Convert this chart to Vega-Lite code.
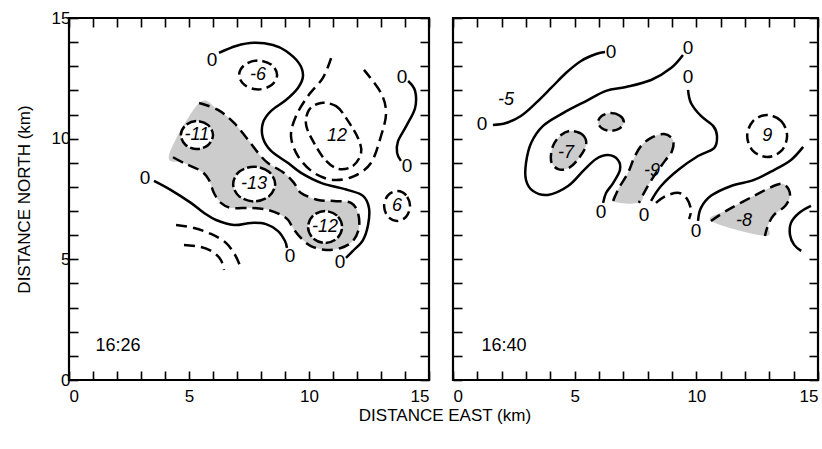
{
 "$schema": "https://vega.github.io/schema/vega-lite/v6.json",
 "background": "white",
 "padding": {"left": 13, "top": 7, "right": 2, "bottom": 5},
 "bounds": "flush",
 "spacing": 24,
 "title": {"text": "DISTANCE EAST (km)", "orient": "bottom", "anchor": "middle", "fontSize": 17, "fontWeight": "normal", "font": "Liberation Sans", "color": "black", "offset": 3, "dx": 28},
 "config": {
  "view": {"stroke": "black", "strokeWidth": 2.2},
  "axis": {"domain": false, "grid": false, "tickColor": "black", "tickWidth": 1.6, "tickSize": -9, "labelFont": "Liberation Sans", "labelFontSize": 17, "labelColor": "black", "titleFont": "Liberation Sans", "titleFontSize": 17, "titleFontWeight": "normal", "titleColor": "black"}
 },
 "datasets": {
  "contours": [
   {"p":"L","id":"A","k":"zero","x":6.25,"y":13.55},{"p":"L","id":"A","k":"zero","x":6.96,"y":13.84},{"p":"L","id":"A","k":"zero","x":7.71,"y":13.97},{"p":"L","id":"A","k":"zero","x":8.5,"y":13.88},{"p":"L","id":"A","k":"zero","x":9.04,"y":13.63},{"p":"L","id":"A","k":"zero","x":9.58,"y":13.13},{"p":"L","id":"A","k":"zero","x":9.75,"y":12.6},{"p":"L","id":"A","k":"zero","x":9.54,"y":12.1},{"p":"L","id":"A","k":"zero","x":9.04,"y":11.6},{"p":"L","id":"A","k":"zero","x":8.42,"y":11.15},{"p":"L","id":"A","k":"zero","x":8.08,"y":10.65},{"p":"L","id":"A","k":"zero","x":8.08,"y":10.03},{"p":"L","id":"A","k":"zero","x":8.42,"y":9.49},{"p":"L","id":"A","k":"zero","x":9.13,"y":8.99},{"p":"L","id":"A","k":"zero","x":9.67,"y":8.58},{"p":"L","id":"A","k":"zero","x":10.5,"y":8.17},{"p":"L","id":"A","k":"zero","x":11.63,"y":7.87},{"p":"L","id":"A","k":"zero","x":12.25,"y":7.63},{"p":"L","id":"A","k":"zero","x":12.5,"y":7.13},{"p":"L","id":"A","k":"zero","x":12.46,"y":6.42},{"p":"L","id":"A","k":"zero","x":12.25,"y":5.8},{"p":"L","id":"A","k":"zero","x":11.83,"y":5.35},{"p":"L","id":"A","k":"zero","x":11.54,"y":5.06},
   {"p":"L","id":"B","k":"zero","x":3.54,"y":8.25},{"p":"L","id":"B","k":"zero","x":4.25,"y":7.87},{"p":"L","id":"B","k":"zero","x":5.08,"y":7.34},{"p":"L","id":"B","k":"zero","x":5.63,"y":6.92},{"p":"L","id":"B","k":"zero","x":6.13,"y":6.63},{"p":"L","id":"B","k":"zero","x":6.88,"y":6.42},{"p":"L","id":"B","k":"zero","x":7.58,"y":6.51},{"p":"L","id":"B","k":"zero","x":8.21,"y":6.46},{"p":"L","id":"B","k":"zero","x":8.71,"y":6.17},{"p":"L","id":"B","k":"zero","x":9.0,"y":5.76},{"p":"L","id":"B","k":"zero","x":9.08,"y":5.47},
   {"p":"L","id":"C","k":"zero","x":14.13,"y":12.39},{"p":"L","id":"C","k":"zero","x":14.42,"y":11.98},{"p":"L","id":"C","k":"zero","x":14.42,"y":11.27},{"p":"L","id":"C","k":"zero","x":14.08,"y":10.57},{"p":"L","id":"C","k":"zero","x":13.71,"y":9.9},{"p":"L","id":"C","k":"zero","x":13.67,"y":9.41},{"p":"L","id":"C","k":"zero","x":13.83,"y":9.08},
   {"p":"L","id":"R1","k":"shade","x":5.42,"y":11.48},{"p":"L","id":"R1","k":"shade","x":6.21,"y":11.19},{"p":"L","id":"R1","k":"shade","x":6.88,"y":10.65},{"p":"L","id":"R1","k":"shade","x":7.46,"y":9.95},{"p":"L","id":"R1","k":"shade","x":7.88,"y":9.41},{"p":"L","id":"R1","k":"shade","x":8.29,"y":8.99},{"p":"L","id":"R1","k":"shade","x":8.96,"y":8.58},{"p":"L","id":"R1","k":"shade","x":9.38,"y":8.16},{"p":"L","id":"R1","k":"shade","x":9.67,"y":7.75},{"p":"L","id":"R1","k":"shade","x":10.38,"y":7.46},{"p":"L","id":"R1","k":"shade","x":11.04,"y":7.42},{"p":"L","id":"R1","k":"shade","x":11.75,"y":7.34},{"p":"L","id":"R1","k":"shade","x":12.04,"y":6.92},{"p":"L","id":"R1","k":"shade","x":12.08,"y":6.3},{"p":"L","id":"R1","k":"shade","x":11.83,"y":5.76},{"p":"L","id":"R1","k":"shade","x":11.33,"y":5.47},{"p":"L","id":"R1","k":"shade","x":10.71,"y":5.39},{"p":"L","id":"R1","k":"shade","x":10.08,"y":5.55},{"p":"L","id":"R1","k":"shade","x":9.67,"y":5.88},{"p":"L","id":"R1","k":"shade","x":9.33,"y":6.3},{"p":"L","id":"R1","k":"shade","x":9.13,"y":6.63},{"p":"L","id":"R1","k":"shade","x":8.83,"y":6.84},{"p":"L","id":"R1","k":"shade","x":8.29,"y":7.05},{"p":"L","id":"R1","k":"shade","x":7.58,"y":7.13},{"p":"L","id":"R1","k":"shade","x":6.75,"y":7.13},{"p":"L","id":"R1","k":"shade","x":6.33,"y":7.34},{"p":"L","id":"R1","k":"shade","x":6.04,"y":7.75},{"p":"L","id":"R1","k":"shade","x":5.83,"y":8.29},{"p":"L","id":"R1","k":"shade","x":5.5,"y":8.66},{"p":"L","id":"R1","k":"shade","x":4.79,"y":8.99},{"p":"L","id":"R1","k":"shade","x":4.17,"y":9.32},
   {"p":"L","id":"E11","k":"core","x":6.0,"y":10.15},{"p":"L","id":"E11","k":"core","x":5.8,"y":10.56},{"p":"L","id":"E11","k":"core","x":5.33,"y":10.73},{"p":"L","id":"E11","k":"core","x":4.86,"y":10.56},{"p":"L","id":"E11","k":"core","x":4.66,"y":10.15},{"p":"L","id":"E11","k":"core","x":4.86,"y":9.74},{"p":"L","id":"E11","k":"core","x":5.33,"y":9.57},{"p":"L","id":"E11","k":"core","x":5.8,"y":9.74},
   {"p":"L","id":"E13","k":"core","x":8.59,"y":8.12},{"p":"L","id":"E13","k":"core","x":8.33,"y":8.63},{"p":"L","id":"E13","k":"core","x":7.71,"y":8.84},{"p":"L","id":"E13","k":"core","x":7.09,"y":8.63},{"p":"L","id":"E13","k":"core","x":6.84,"y":8.12},{"p":"L","id":"E13","k":"core","x":7.09,"y":7.61},{"p":"L","id":"E13","k":"core","x":7.71,"y":7.4},{"p":"L","id":"E13","k":"core","x":8.33,"y":7.61},
   {"p":"L","id":"E12","k":"core","x":11.38,"y":6.34},{"p":"L","id":"E12","k":"core","x":11.17,"y":6.81},{"p":"L","id":"E12","k":"core","x":10.67,"y":7.0},{"p":"L","id":"E12","k":"core","x":10.17,"y":6.81},{"p":"L","id":"E12","k":"core","x":9.96,"y":6.34},{"p":"L","id":"E12","k":"core","x":10.17,"y":5.87},{"p":"L","id":"E12","k":"core","x":10.67,"y":5.68},{"p":"L","id":"E12","k":"core","x":11.17,"y":5.87},
   {"p":"L","id":"E6n","k":"levc","x":8.67,"y":12.64},{"p":"L","id":"E6n","k":"levc","x":8.44,"y":13.06},{"p":"L","id":"E6n","k":"levc","x":7.88,"y":13.24},{"p":"L","id":"E6n","k":"levc","x":7.32,"y":13.06},{"p":"L","id":"E6n","k":"levc","x":7.09,"y":12.64},{"p":"L","id":"E6n","k":"levc","x":7.32,"y":12.22},{"p":"L","id":"E6n","k":"levc","x":7.88,"y":12.04},{"p":"L","id":"E6n","k":"levc","x":8.44,"y":12.22},
   {"p":"L","id":"E6p","k":"levc","x":14.21,"y":7.21},{"p":"L","id":"E6p","k":"levc","x":14.05,"y":7.65},{"p":"L","id":"E6p","k":"levc","x":13.67,"y":7.83},{"p":"L","id":"E6p","k":"levc","x":13.29,"y":7.65},{"p":"L","id":"E6p","k":"levc","x":13.13,"y":7.21},{"p":"L","id":"E6p","k":"levc","x":13.29,"y":6.77},{"p":"L","id":"E6p","k":"levc","x":13.67,"y":6.59},{"p":"L","id":"E6p","k":"levc","x":14.05,"y":6.77},
   {"p":"L","id":"I12","k":"levc","x":10.5,"y":11.48},{"p":"L","id":"I12","k":"levc","x":11.13,"y":11.35},{"p":"L","id":"I12","k":"levc","x":11.54,"y":10.86},{"p":"L","id":"I12","k":"levc","x":12.04,"y":10.03},{"p":"L","id":"I12","k":"levc","x":12.17,"y":9.41},{"p":"L","id":"I12","k":"levc","x":11.83,"y":8.87},{"p":"L","id":"I12","k":"levc","x":11.25,"y":8.74},{"p":"L","id":"I12","k":"levc","x":10.71,"y":9.08},{"p":"L","id":"I12","k":"levc","x":10.21,"y":9.82},{"p":"L","id":"I12","k":"levc","x":9.88,"y":10.57},{"p":"L","id":"I12","k":"levc","x":10.0,"y":11.19},
   {"p":"L","id":"O12","k":"lev","x":10.92,"y":13.34},{"p":"L","id":"O12","k":"lev","x":10.58,"y":12.52},{"p":"L","id":"O12","k":"lev","x":9.96,"y":11.77},{"p":"L","id":"O12","k":"lev","x":9.46,"y":10.94},{"p":"L","id":"O12","k":"lev","x":9.25,"y":10.11},{"p":"L","id":"O12","k":"lev","x":9.54,"y":9.28},{"p":"L","id":"O12","k":"lev","x":10.21,"y":8.58},{"p":"L","id":"O12","k":"lev","x":11.04,"y":8.29},{"p":"L","id":"O12","k":"lev","x":11.88,"y":8.45},{"p":"L","id":"O12","k":"lev","x":12.58,"y":8.99},{"p":"L","id":"O12","k":"lev","x":13.0,"y":10.11},{"p":"L","id":"O12","k":"lev","x":13.21,"y":11.06},{"p":"L","id":"O12","k":"lev","x":13.0,"y":11.89},{"p":"L","id":"O12","k":"lev","x":12.29,"y":12.85},
   {"p":"L","id":"Arc1","k":"lev","x":4.46,"y":6.42},{"p":"L","id":"Arc1","k":"lev","x":5.21,"y":6.3},{"p":"L","id":"Arc1","k":"lev","x":5.92,"y":6.05},{"p":"L","id":"Arc1","k":"lev","x":6.54,"y":5.68},{"p":"L","id":"Arc1","k":"lev","x":6.92,"y":5.18},{"p":"L","id":"Arc1","k":"lev","x":7.13,"y":4.72},
   {"p":"L","id":"Arc2","k":"lev","x":4.79,"y":5.59},{"p":"L","id":"Arc2","k":"lev","x":5.5,"y":5.51},{"p":"L","id":"Arc2","k":"lev","x":6.0,"y":5.3},{"p":"L","id":"Arc2","k":"lev","x":6.33,"y":4.97},{"p":"L","id":"Arc2","k":"lev","x":6.46,"y":4.56},

   {"p":"R","id":"a","k":"zero","x":1.64,"y":10.57},{"p":"R","id":"a","k":"zero","x":2.18,"y":10.65},{"p":"R","id":"a","k":"zero","x":2.79,"y":10.94},{"p":"R","id":"a","k":"zero","x":3.41,"y":11.48},{"p":"R","id":"a","k":"zero","x":4.03,"y":12.1},{"p":"R","id":"a","k":"zero","x":4.64,"y":12.72},{"p":"R","id":"a","k":"zero","x":5.26,"y":13.22},{"p":"R","id":"a","k":"zero","x":5.88,"y":13.51},{"p":"R","id":"a","k":"zero","x":6.25,"y":13.59},
   {"p":"R","id":"b","k":"zero","x":9.45,"y":13.47},{"p":"R","id":"b","k":"zero","x":8.96,"y":12.93},{"p":"R","id":"b","k":"zero","x":8.14,"y":12.43},{"p":"R","id":"b","k":"zero","x":7.11,"y":12.14},{"p":"R","id":"b","k":"zero","x":6.29,"y":11.98},{"p":"R","id":"b","k":"zero","x":5.47,"y":11.56},{"p":"R","id":"b","k":"zero","x":4.52,"y":11.06},{"p":"R","id":"b","k":"zero","x":3.7,"y":10.53},{"p":"R","id":"b","k":"zero","x":3.21,"y":9.82},{"p":"R","id":"b","k":"zero","x":3.0,"y":8.99},{"p":"R","id":"b","k":"zero","x":3.0,"y":8.29},{"p":"R","id":"b","k":"zero","x":3.29,"y":7.83},{"p":"R","id":"b","k":"zero","x":3.9,"y":7.67},{"p":"R","id":"b","k":"zero","x":4.73,"y":8.04},{"p":"R","id":"b","k":"zero","x":5.38,"y":8.7},{"p":"R","id":"b","k":"zero","x":5.88,"y":9.16},{"p":"R","id":"b","k":"zero","x":6.37,"y":9.32},{"p":"R","id":"b","k":"zero","x":6.78,"y":9.12},{"p":"R","id":"b","k":"zero","x":6.86,"y":8.7},{"p":"R","id":"b","k":"zero","x":6.58,"y":8.16},{"p":"R","id":"b","k":"zero","x":6.29,"y":7.75},{"p":"R","id":"b","k":"zero","x":6.17,"y":7.34},
   {"p":"R","id":"c","k":"zero","x":9.66,"y":12.02},{"p":"R","id":"c","k":"zero","x":9.78,"y":11.48},{"p":"R","id":"c","k":"zero","x":10.19,"y":10.94},{"p":"R","id":"c","k":"zero","x":10.69,"y":10.53},{"p":"R","id":"c","k":"zero","x":10.85,"y":10.11},{"p":"R","id":"c","k":"zero","x":10.73,"y":9.61},{"p":"R","id":"c","k":"zero","x":10.07,"y":9.28},{"p":"R","id":"c","k":"zero","x":9.25,"y":8.7},{"p":"R","id":"c","k":"zero","x":8.55,"y":8.04},{"p":"R","id":"c","k":"zero","x":8.14,"y":7.42},
   {"p":"R","id":"d","k":"zero","x":10.07,"y":6.59},{"p":"R","id":"d","k":"zero","x":10.19,"y":7.13},{"p":"R","id":"d","k":"zero","x":10.6,"y":7.63},{"p":"R","id":"d","k":"zero","x":11.43,"y":8.04},{"p":"R","id":"d","k":"zero","x":12.37,"y":8.29},{"p":"R","id":"d","k":"zero","x":13.19,"y":8.7},{"p":"R","id":"d","k":"zero","x":13.89,"y":9.12},{"p":"R","id":"d","k":"zero","x":14.39,"y":9.66},
   {"p":"R","id":"e","k":"zero","x":14.71,"y":7.21},{"p":"R","id":"e","k":"zero","x":14.22,"y":6.92},{"p":"R","id":"e","k":"zero","x":13.89,"y":6.51},{"p":"R","id":"e","k":"zero","x":13.85,"y":6.01},{"p":"R","id":"e","k":"zero","x":14.02,"y":5.6},{"p":"R","id":"e","k":"zero","x":14.31,"y":5.35},
   {"p":"R","id":"f","k":"lev","x":8.34,"y":7.34},{"p":"R","id":"f","k":"lev","x":8.75,"y":7.63},{"p":"R","id":"f","k":"lev","x":9.29,"y":7.75},{"p":"R","id":"f","k":"lev","x":9.62,"y":7.5},{"p":"R","id":"f","k":"lev","x":9.78,"y":7.05},{"p":"R","id":"f","k":"lev","x":9.7,"y":6.67},
   {"p":"R","id":"N9","k":"shade","x":6.58,"y":7.42},{"p":"R","id":"N9","k":"shade","x":6.82,"y":7.96},{"p":"R","id":"N9","k":"shade","x":7.19,"y":8.58},{"p":"R","id":"N9","k":"shade","x":7.44,"y":9.2},{"p":"R","id":"N9","k":"shade","x":7.73,"y":9.7},{"p":"R","id":"N9","k":"shade","x":8.14,"y":10.03},{"p":"R","id":"N9","k":"shade","x":8.67,"y":10.19},{"p":"R","id":"N9","k":"shade","x":9.04,"y":9.95},{"p":"R","id":"N9","k":"shade","x":9.0,"y":9.49},{"p":"R","id":"N9","k":"shade","x":8.71,"y":9.08},{"p":"R","id":"N9","k":"shade","x":8.26,"y":8.45},{"p":"R","id":"N9","k":"shade","x":7.89,"y":7.83},{"p":"R","id":"N9","k":"shade","x":7.64,"y":7.34},
   {"p":"R","id":"N8","k":"shade","x":10.6,"y":6.59},{"p":"R","id":"N8","k":"shade","x":11.3,"y":7.05},{"p":"R","id":"N8","k":"shade","x":12.37,"y":7.63},{"p":"R","id":"N8","k":"shade","x":13.28,"y":8.08},{"p":"R","id":"N8","k":"shade","x":13.65,"y":8.08},{"p":"R","id":"N8","k":"shade","x":13.85,"y":7.67},{"p":"R","id":"N8","k":"shade","x":13.65,"y":7.21},{"p":"R","id":"N8","k":"shade","x":13.19,"y":6.84},{"p":"R","id":"N8","k":"shade","x":12.95,"y":6.42},{"p":"R","id":"N8","k":"shade","x":12.82,"y":5.97},
   {"p":"R","id":"N7","k":"shadec","x":4.85,"y":10.32},{"p":"R","id":"N7","k":"shadec","x":5.34,"y":10.15},{"p":"R","id":"N7","k":"shadec","x":5.47,"y":9.74},{"p":"R","id":"N7","k":"shadec","x":5.18,"y":9.2},{"p":"R","id":"N7","k":"shadec","x":4.77,"y":8.79},{"p":"R","id":"N7","k":"shadec","x":4.32,"y":8.74},{"p":"R","id":"N7","k":"shadec","x":4.03,"y":9.08},{"p":"R","id":"N7","k":"shadec","x":4.11,"y":9.7},{"p":"R","id":"N7","k":"shadec","x":4.44,"y":10.15},
   {"p":"R","id":"Sm","k":"shadec","x":7.02,"y":10.69},{"p":"R","id":"Sm","k":"shadec","x":6.86,"y":10.95},{"p":"R","id":"Sm","k":"shadec","x":6.49,"y":11.06},{"p":"R","id":"Sm","k":"shadec","x":6.12,"y":10.95},{"p":"R","id":"Sm","k":"shadec","x":5.96,"y":10.69},{"p":"R","id":"Sm","k":"shadec","x":6.12,"y":10.43},{"p":"R","id":"Sm","k":"shadec","x":6.49,"y":10.32},{"p":"R","id":"Sm","k":"shadec","x":6.86,"y":10.43},
   {"p":"R","id":"P9","k":"levc","x":13.73,"y":10.11},{"p":"R","id":"P9","k":"levc","x":13.49,"y":10.73},{"p":"R","id":"P9","k":"levc","x":12.91,"y":10.98},{"p":"R","id":"P9","k":"levc","x":12.33,"y":10.73},{"p":"R","id":"P9","k":"levc","x":12.09,"y":10.11},{"p":"R","id":"P9","k":"levc","x":12.33,"y":9.49},{"p":"R","id":"P9","k":"levc","x":12.91,"y":9.24},{"p":"R","id":"P9","k":"levc","x":13.49,"y":9.49}
  ],
  "labels": [
   {"p":"L","role":"zero","t":"0","x":5.96,"y":13.26},{"p":"L","role":"zero","t":"0","x":11.29,"y":4.89},{"p":"L","role":"zero","t":"0","x":3.17,"y":8.37},{"p":"L","role":"zero","t":"0","x":9.21,"y":5.14},{"p":"L","role":"zero","t":"0","x":13.88,"y":12.56},{"p":"L","role":"zero","t":"0","x":14.08,"y":8.87},
   {"p":"L","role":"val","t":"-6","x":7.88,"y":12.64},{"p":"L","role":"val","t":"-11","x":5.33,"y":10.15},{"p":"L","role":"val","t":"12","x":11.17,"y":10.11},{"p":"L","role":"val","t":"-13","x":7.71,"y":8.12},{"p":"L","role":"val","t":"-12","x":10.67,"y":6.34},{"p":"L","role":"val","t":"6","x":13.67,"y":7.21},
   {"p":"L","role":"time","t":"16:26","x":2.04,"y":1.41},
   {"p":"R","role":"zero","t":"0","x":1.19,"y":10.61},{"p":"R","role":"zero","t":"0","x":6.49,"y":13.59},{"p":"R","role":"zero","t":"0","x":9.66,"y":13.76},{"p":"R","role":"zero","t":"0","x":6.08,"y":6.96},{"p":"R","role":"zero","t":"0","x":9.66,"y":12.56},{"p":"R","role":"zero","t":"0","x":7.85,"y":6.84},{"p":"R","role":"zero","t":"0","x":9.99,"y":6.17},
   {"p":"R","role":"val","t":"-5","x":2.18,"y":11.6},{"p":"R","role":"val","t":"-7","x":4.64,"y":9.41},{"p":"R","role":"val","t":"-9","x":8.18,"y":8.66},{"p":"R","role":"val","t":"9","x":12.91,"y":10.11},{"p":"R","role":"val","t":"-8","x":11.96,"y":6.59},
   {"p":"R","role":"time","t":"16:40","x":2.1,"y":1.41}
  ]
 },
 "hconcat": [
  {
   "width": 360, "height": 362,
   "resolve": {"axis": {"x": "independent", "y": "independent"}},
   "layer": [
    {"data": {"name": "contours"}, "transform": [{"filter": "datum.p === 'L' && (datum.k === 'shade' || datum.k === 'shadec')"}],
     "mark": {"type": "line", "interpolate": "cardinal-closed", "fill": "#cccccc", "strokeWidth": 0},
     "encoding": {
      "x": {"field": "x", "type": "quantitative", "scale": {"domain": [0, 15], "nice": false, "zero": false}, "axis": {"orient": "bottom", "values": [0,1,2,3,4,5,6,7,8,9,10,11,12,13,14,15], "labelExpr": "datum.value % 5 === 0 ? datum.label : ''", "title": null, "labelPadding": 17}},
      "y": {"field": "y", "type": "quantitative", "scale": {"domain": [0, 15], "nice": false, "zero": false}, "axis": {"orient": "left", "values": [0,1,2,3,4,5,6,7,8,9,10,11,12,13,14,15], "labelExpr": "datum.value % 5 === 0 ? datum.label : ''", "title": "DISTANCE NORTH (km)", "labelPadding": 8, "titlePadding": 18}},
      "detail": {"field": "id"}, "order": {"value": null}}},
    {"data": {"name": "labels"}, "transform": [{"filter": "datum.p === 'L'"}],
     "mark": {"type": "point", "opacity": 0},
     "encoding": {
      "x": {"field": "x", "type": "quantitative", "axis": {"orient": "top", "values": [0,1,2,3,4,5,6,7,8,9,10,11,12,13,14,15], "labels": false, "title": null}},
      "y": {"field": "y", "type": "quantitative", "axis": {"orient": "right", "values": [0,1,2,3,4,5,6,7,8,9,10,11,12,13,14,15], "labels": false, "title": null}}}},
    {"data": {"name": "contours"}, "transform": [{"filter": "datum.p === 'L' && datum.k === 'core'"}],
     "mark": {"type": "line", "interpolate": "cardinal-closed", "fill": "white", "stroke": "black", "strokeWidth": 2.5, "strokeDash": [10, 3]},
     "encoding": {"x": {"field": "x", "type": "quantitative", "axis": null}, "y": {"field": "y", "type": "quantitative", "axis": null}, "detail": {"field": "id"}, "order": {"value": null}}},
    {"data": {"name": "contours"}, "transform": [{"filter": "datum.p === 'L' && datum.k === 'zero'"}],
     "mark": {"type": "line", "interpolate": "cardinal", "stroke": "black", "strokeWidth": 2.5},
     "encoding": {"x": {"field": "x", "type": "quantitative", "axis": null}, "y": {"field": "y", "type": "quantitative", "axis": null}, "detail": {"field": "id"}, "order": {"value": null}}},
    {"data": {"name": "contours"}, "transform": [{"filter": "datum.p === 'L' && (datum.k === 'lev' || datum.k === 'shade')"}],
     "mark": {"type": "line", "interpolate": "cardinal", "stroke": "black", "strokeWidth": 2.5, "strokeDash": [11, 6]},
     "encoding": {"x": {"field": "x", "type": "quantitative", "axis": null}, "y": {"field": "y", "type": "quantitative", "axis": null}, "detail": {"field": "id"}, "order": {"value": null}}},
    {"data": {"name": "contours"}, "transform": [{"filter": "datum.p === 'L' && (datum.k === 'levc' || datum.k === 'shadec')"}],
     "mark": {"type": "line", "interpolate": "cardinal-closed", "stroke": "black", "strokeWidth": 2.5, "strokeDash": [10, 5]},
     "encoding": {"x": {"field": "x", "type": "quantitative", "axis": null}, "y": {"field": "y", "type": "quantitative", "axis": null}, "detail": {"field": "id"}, "order": {"value": null}}},
    {"data": {"name": "labels"}, "transform": [{"filter": "datum.p === 'L' && datum.role === 'zero'"}],
     "mark": {"type": "text", "font": "Liberation Sans", "fontSize": 19, "color": "black"},
     "encoding": {"x": {"field": "x", "type": "quantitative", "axis": null}, "y": {"field": "y", "type": "quantitative", "axis": null}, "text": {"field": "t"}}},
    {"data": {"name": "labels"}, "transform": [{"filter": "datum.p === 'L' && datum.role === 'val'"}],
     "mark": {"type": "text", "font": "Liberation Sans", "fontSize": 18, "fontStyle": "italic", "color": "black"},
     "encoding": {"x": {"field": "x", "type": "quantitative", "axis": null}, "y": {"field": "y", "type": "quantitative", "axis": null}, "text": {"field": "t"}}},
    {"data": {"name": "labels"}, "transform": [{"filter": "datum.p === 'L' && datum.role === 'time'"}],
     "mark": {"type": "text", "font": "Liberation Sans", "fontSize": 18, "color": "black"},
     "encoding": {"x": {"field": "x", "type": "quantitative", "axis": null}, "y": {"field": "y", "type": "quantitative", "axis": null}, "text": {"field": "t"}}}
   ]
  },
  {
   "width": 365, "height": 362,
   "resolve": {"axis": {"x": "independent", "y": "independent"}},
   "layer": [
    {"data": {"name": "contours"}, "transform": [{"filter": "datum.p === 'R' && (datum.k === 'shade' || datum.k === 'shadec')"}],
     "mark": {"type": "line", "interpolate": "cardinal-closed", "fill": "#cccccc", "strokeWidth": 0},
     "encoding": {
      "x": {"field": "x", "type": "quantitative", "scale": {"domain": [0, 15], "nice": false, "zero": false}, "axis": {"orient": "bottom", "values": [0,1,2,3,4,5,6,7,8,9,10,11,12,13,14,15], "labelExpr": "datum.value % 5 === 0 ? datum.label : ''", "title": null, "labelPadding": 17}},
      "y": {"field": "y", "type": "quantitative", "scale": {"domain": [0, 15], "nice": false, "zero": false}, "axis": {"orient": "left", "values": [0,1,2,3,4,5,6,7,8,9,10,11,12,13,14,15], "labels": false, "title": null}},
      "detail": {"field": "id"}, "order": {"value": null}}},
    {"data": {"name": "labels"}, "transform": [{"filter": "datum.p === 'R'"}],
     "mark": {"type": "point", "opacity": 0},
     "encoding": {
      "x": {"field": "x", "type": "quantitative", "axis": {"orient": "top", "values": [0,1,2,3,4,5,6,7,8,9,10,11,12,13,14,15], "labels": false, "title": null}},
      "y": {"field": "y", "type": "quantitative", "axis": {"orient": "right", "values": [0,1,2,3,4,5,6,7,8,9,10,11,12,13,14,15], "labels": false, "title": null}}}},
    {"data": {"name": "contours"}, "transform": [{"filter": "datum.p === 'R' && datum.k === 'zero'"}],
     "mark": {"type": "line", "interpolate": "cardinal", "stroke": "black", "strokeWidth": 2.5},
     "encoding": {"x": {"field": "x", "type": "quantitative", "axis": null}, "y": {"field": "y", "type": "quantitative", "axis": null}, "detail": {"field": "id"}, "order": {"value": null}}},
    {"data": {"name": "contours"}, "transform": [{"filter": "datum.p === 'R' && (datum.k === 'lev' || datum.k === 'shade')"}],
     "mark": {"type": "line", "interpolate": "cardinal", "stroke": "black", "strokeWidth": 2.5, "strokeDash": [11, 6]},
     "encoding": {"x": {"field": "x", "type": "quantitative", "axis": null}, "y": {"field": "y", "type": "quantitative", "axis": null}, "detail": {"field": "id"}, "order": {"value": null}}},
    {"data": {"name": "contours"}, "transform": [{"filter": "datum.p === 'R' && (datum.k === 'levc' || datum.k === 'shadec')"}],
     "mark": {"type": "line", "interpolate": "cardinal-closed", "stroke": "black", "strokeWidth": 2.5, "strokeDash": [10, 5]},
     "encoding": {"x": {"field": "x", "type": "quantitative", "axis": null}, "y": {"field": "y", "type": "quantitative", "axis": null}, "detail": {"field": "id"}, "order": {"value": null}}},
    {"data": {"name": "labels"}, "transform": [{"filter": "datum.p === 'R' && datum.role === 'zero'"}],
     "mark": {"type": "text", "font": "Liberation Sans", "fontSize": 19, "color": "black"},
     "encoding": {"x": {"field": "x", "type": "quantitative", "axis": null}, "y": {"field": "y", "type": "quantitative", "axis": null}, "text": {"field": "t"}}},
    {"data": {"name": "labels"}, "transform": [{"filter": "datum.p === 'R' && datum.role === 'val'"}],
     "mark": {"type": "text", "font": "Liberation Sans", "fontSize": 18, "fontStyle": "italic", "color": "black"},
     "encoding": {"x": {"field": "x", "type": "quantitative", "axis": null}, "y": {"field": "y", "type": "quantitative", "axis": null}, "text": {"field": "t"}}},
    {"data": {"name": "labels"}, "transform": [{"filter": "datum.p === 'R' && datum.role === 'time'"}],
     "mark": {"type": "text", "font": "Liberation Sans", "fontSize": 18, "color": "black"},
     "encoding": {"x": {"field": "x", "type": "quantitative", "axis": null}, "y": {"field": "y", "type": "quantitative", "axis": null}, "text": {"field": "t"}}}
   ]
  }
 ]
}
